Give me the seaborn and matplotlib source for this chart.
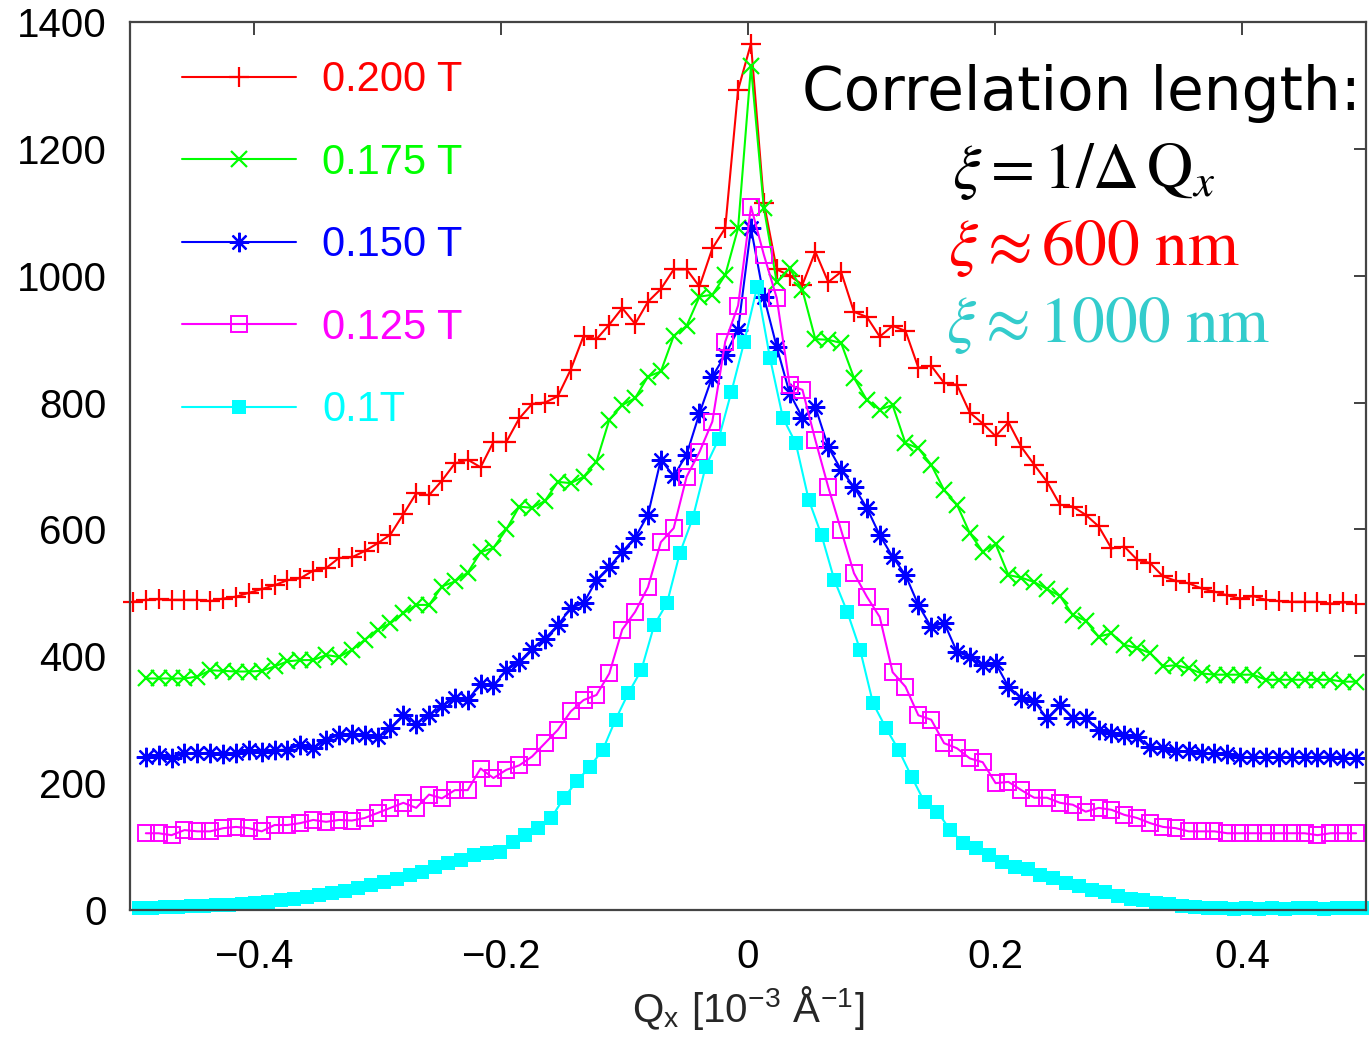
import numpy as np
import pandas as pd
import matplotlib
matplotlib.use("Agg")
import matplotlib.pyplot as plt
import seaborn as sns

# ---------------- data ----------------
QX_START = -0.4976          # first sample position [1e-3 1/A]
QX_STEP = 1.0 / 96          # sample spacing
CYAN_SHIFT = 0.005          # the 0.1 T scan is sampled half a step to the right

labels = ["0.200 T", "0.175 T", "0.150 T", "0.125 T", "0.1T"]
colors = ["#ff0000", "#00ff00", "#0000ff", "#ff00ff", "#00ffff"]

i_200 = [486, 489, 490, 489, 489, 489, 487, 491, 494, 500, 506, 512, 520, 523, 535, 539,
         555, 556, 566, 578, 592, 624, 657, 654, 677, 704, 710, 698, 738, 738, 775, 798,
         800, 810, 852, 905, 900, 923, 949, 924, 959, 979, 1010, 1010, 983, 1043, 1075, 1293,
         1366, 1115, 1010, 1000, 986, 1038, 990, 1006, 943, 935, 904, 921, 913, 855, 858, 831,
         828, 784, 767, 747, 769, 730, 702, 675, 639, 636, 623, 605, 570, 573, 552, 547,
         526, 519, 515, 507, 502, 496, 491, 495, 489, 487, 486, 486, 486, 483, 485, 483]

# the next three start one sample later (index 1)
i_175 = [365, 365, 365, 365, 368, 378, 377, 376, 376, 377, 384, 392, 394, 394, 402,
         399, 410, 426, 442, 452, 468, 481, 481, 510, 518, 532, 564, 571, 600, 636, 634,
         645, 675, 673, 683, 707, 773, 796, 807, 841, 849, 905, 921, 967, 970, 1001, 1075,
         1330, 1107, 990, 1012, 977, 900, 899, 894, 839, 804, 789, 796, 736, 728, 702, 662,
         639, 594, 565, 577, 528, 524, 517, 506, 495, 465, 456, 431, 436, 418, 413, 405,
         384, 386, 381, 373, 371, 371, 371, 371, 363, 363, 363, 363, 363, 363, 360, 360]

i_150 = [242, 244, 239, 247, 247, 248, 246, 248, 252, 249, 252, 253, 260, 255, 268,
         276, 277, 276, 272, 287, 308, 294, 308, 321, 334, 331, 357, 354, 378, 391, 412,
         428, 449, 476, 484, 520, 541, 565, 587, 623, 710, 684, 718, 783, 841, 875, 915,
         1075, 967, 888, 815, 776, 793, 730, 694, 667, 634, 591, 557, 528, 481, 446, 453,
         407, 399, 386, 389, 352, 334, 329, 302, 323, 302, 302, 284, 279, 276, 273, 257,
         255, 250, 250, 248, 247, 246, 241, 241, 241, 241, 241, 241, 241, 242, 239, 239]

i_125 = [121, 121, 118, 126, 124, 124, 129, 131, 129, 124, 134, 134, 137, 142, 139,
         142, 141, 145, 153, 161, 169, 161, 182, 176, 189, 189, 223, 208, 221, 228, 242,
         263, 284, 313, 331, 339, 373, 442, 470, 509, 580, 602, 683, 722, 770, 896, 953,
         1109, 1033, 965, 828, 820, 741, 667, 599, 531, 494, 462, 375, 352, 307, 300, 263,
         255, 239, 233, 200, 202, 189, 177, 177, 169, 166, 155, 161, 158, 150, 145, 137,
         131, 129, 124, 124, 124, 121, 121, 121, 121, 121, 121, 121, 118, 121, 121, 121]

i_100 = [3, 3, 5, 5, 6, 6, 8, 8, 9, 11, 13, 16, 17, 20, 24, 27,
         30, 35, 39, 44, 49, 55, 60, 68, 74, 79, 87, 90, 91, 107, 118, 129,
         145, 177, 203, 226, 252, 300, 342, 378, 449, 484, 563, 618, 699, 742, 817, 896,
         982, 870, 776, 736, 647, 591, 520, 470, 410, 326, 287, 252, 210, 170, 155, 126,
         106, 98, 87, 76, 68, 65, 55, 50, 43, 38, 32, 28, 22, 17, 16, 11,
         9, 6, 5, 3, 3, 2, 3, 2, 3, 2, 3, 3, 2, 3, 3, 3]

series = [i_200, i_175, i_150, i_125, i_100]
start_index = [0, 1, 1, 1, 0]
x_shift = [0.0, 0.0, 0.0, 0.0, CYAN_SHIFT]

marker_styles = [
    dict(marker="+", markersize=15, markeredgewidth=1.6, markerfacecolor="none"),
    dict(marker="x", markersize=11, markeredgewidth=1.6, markerfacecolor="none"),
    dict(marker=(8, 2, 0), markersize=14, markeredgewidth=1.6, markerfacecolor="none"),
    dict(marker="s", markersize=11, markeredgewidth=1.4, markerfacecolor="none"),
    dict(marker="s", markersize=9.5, markeredgewidth=0.0, markerfacecolor=None),
]

# ---------------- style ----------------
sns.set_style("white")
plt.rcParams["font.family"] = ["Liberation Sans", "DejaVu Sans"]
plt.rcParams["mathtext.fontset"] = "stix"

fig = plt.figure(figsize=(13.69, 10.43), dpi=100)
ax = fig.add_axes([130 / 1369, 1 - 910 / 1043, 1236 / 1369, 888 / 1043])

for vals, s0, dx, lab, col, ms in zip(series, start_index, x_shift, labels, colors, marker_styles):
    n = len(vals)
    qx = np.round(QX_START + dx + (np.arange(n) + s0) * QX_STEP, 5)
    df = pd.DataFrame({"qx": qx, "I": vals})
    kw = dict(ms)
    if kw.get("markerfacecolor", "x") is None:
        kw["markerfacecolor"] = col
    sns.lineplot(data=df, x="qx", y="I", ax=ax, color=col, linewidth=1.5,
                 label=lab, markeredgecolor=col, clip_on=False, sort=True,
                 estimator=None, **kw)

ax.set_xlim(-0.5, 0.5)
ax.set_ylim(0, 1400)
ax.set_xticks([-0.4, -0.2, 0, 0.2, 0.4])
ax.set_xticklabels(["\u22120.4", "\u22120.2", "0", "0.2", "0.4"])
ax.set_yticks(range(0, 1401, 200))
ax.tick_params(direction="in", length=9, width=1.3, top=True, right=True,
               labelsize=29, colors="#333333", labelcolor="black")
ax.tick_params(axis="y", pad=17)
ax.tick_params(axis="x", pad=20)
for sp in ax.spines.values():
    sp.set_color("#444444")
    sp.set_linewidth(1.6)

ax.set_ylabel("")
ax.set_xlabel(r"Q$_\mathregular{x}$ [10$^\mathregular{-3}$ Å$^\mathregular{-1}$]",
              fontsize=29, labelpad=6)

leg = ax.legend(loc="upper left", bbox_to_anchor=(0.042, 0.957), frameon=False,
                fontsize=30, handlelength=2.75, handletextpad=0.62,
                labelspacing=1.02, borderaxespad=0, borderpad=0,
                labelcolor="linecolor", numpoints=1)

# ---------------- annotation ----------------
def fx(px):
    return px / 1369

def fy(py):
    return 1 - py / 1043

fig.text(fx(802), fy(110), "Correlation length:", fontsize=43, color="black",
         ha="left", va="baseline", family=["DejaVu Sans"])
fig.text(fx(952), fy(188), r"$\xi = 1/\Delta\,\mathrm{Q}_x$", fontsize=46,
         color="black", ha="left", va="baseline")
fig.text(fx(948), fy(265), r"$\xi \approx 600\ \mathrm{nm}$", fontsize=47,
         color="#ff0000", ha="left", va="baseline")
fig.text(fx(946), fy(342), r"$\xi \approx 1000\ \mathrm{nm}$", fontsize=47,
         color="#33cccc", ha="left", va="baseline")

fig.savefig("out.png", dpi=100)
